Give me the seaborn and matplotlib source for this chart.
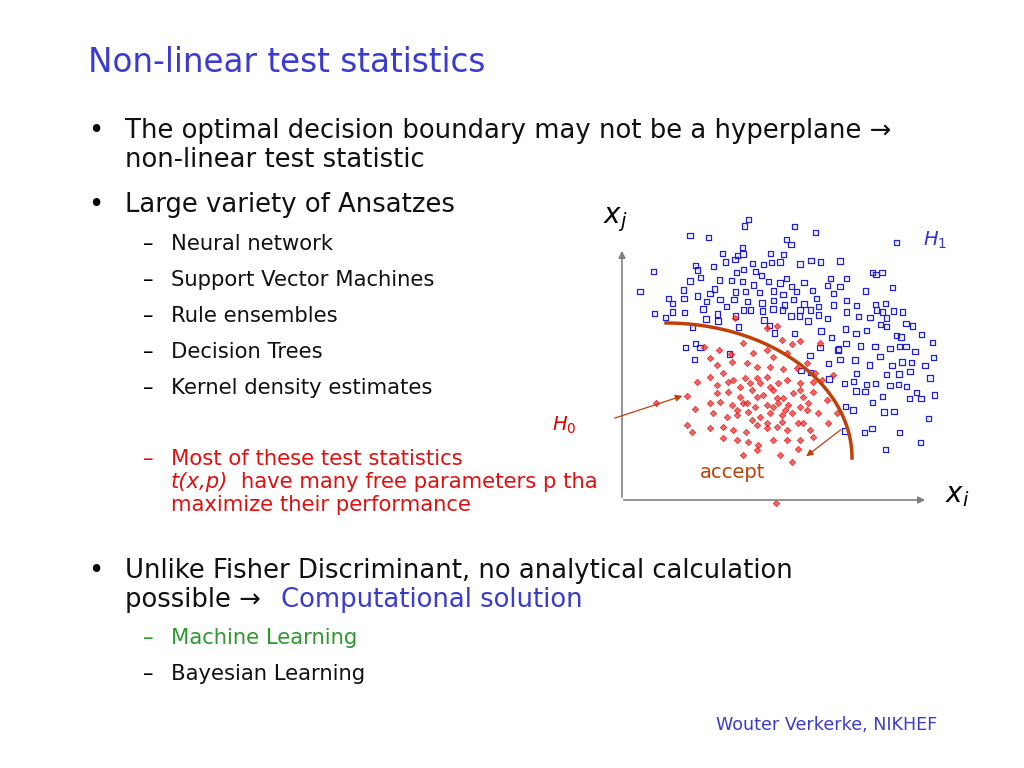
import matplotlib
matplotlib.use("Agg")
import matplotlib.pyplot as plt
import seaborn as sns
import numpy as np
import pandas as pd

# scatter positions (zoomed-crop coordinates: x/3+600, y/3+210 gives image px)
blue_zoom = [(445,28),(433,48),(583,50),(646,68),(270,76),(325,82),(560,88),(573,103),(889,97),(428,112),(367,130),(429,132),(512,130),(413,137),(550,133),(405,148),(377,156),(458,161),(286,166),(160,184),(293,180),(341,170),(490,163),(515,158),(540,156),(600,162),(633,152),(661,156),(720,153),(817,187),(846,187),(828,193),(467,184),(431,178),(410,188),(302,202),(358,210),(395,212),(427,214),(485,196),(505,215),(540,219),(575,230),(612,218),(692,206),(740,205),(270,213),(250,240),(120,245),(205,265),(292,258),(343,237),(406,246),(437,245),(478,248),(520,243),(549,253),(590,245),(637,242),(682,227),(720,230),(796,243),(878,232),(217,280),(252,265),(320,275),(360,268),(402,268),(442,275),(486,279),(520,272),(553,285),(580,268),(612,282),(655,290),(700,285),(740,272),(770,286),(826,283),(857,280),(163,310),(218,306),(253,307),(309,297),(318,327),(353,312),(407,318),(452,300),(487,303),(519,297),(548,300),(573,318),(598,318),(631,300),(656,315),(683,325),(740,306),(775,320),(810,322),(848,306),(880,303),(907,306),(196,323),(277,352),(354,333),(416,351),(492,330),(508,346),(523,369),(583,371),(624,333),(663,363),(694,382),(736,357),(768,370),(800,361),(842,344),(860,324),(918,340),(938,348),(890,376),(903,381),(964,373),(997,397),(256,413),(286,400),(300,413),(283,448),(388,432),(630,436),(660,412),(714,420),(738,400),(782,408),(825,410),(870,415),(898,410),(918,410),(945,425),(1001,442),(603,481),(686,460),(720,448),(765,450),(808,465),(840,440),(876,467),(906,456),(935,457),(975,467),(687,507),(734,521),(760,515),(770,490),(800,523),(860,494),(897,492),(930,484),(990,504),(768,543),(795,545),(827,520),(848,560),(870,527),(896,524),(920,530),(950,547),(1003,555),(737,590),(759,600),(818,578),(852,606),(882,605),(928,565),(963,565),(985,626),(793,667),(816,655),(898,667),(857,718),(961,698),(735,663),(716,417),(632,488),(330,250),(460,225),(560,205),(650,265),(700,250),(380,290),(430,300),(600,300),(830,300),(860,350)]
red_zoom = [(405,325),(500,355),(531,348),(545,390),(577,401),(600,394),(661,398),(358,420),(392,433),(430,400),(460,430),(500,420),(520,440),(560,430),(330,445),(350,465),(395,455),(440,460),(470,470),(510,470),(548,478),(590,475),(620,460),(645,490),(700,495),(290,517),(330,500),(368,490),(400,510),(436,505),(470,505),(500,500),(535,520),(560,510),(600,520),(640,515),(665,510),(262,557),(350,550),(385,545),(420,560),(456,540),(490,555),(520,540),(550,565),(580,550),(610,560),(640,545),(680,570),(330,580),(360,575),(395,585),(430,580),(465,590),(500,585),(535,580),(565,585),(600,590),(625,580),(655,610),(710,610),(168,578),(285,598),(340,610),(380,620),(410,615),(445,605),(480,620),(510,610),(545,615),(575,610),(610,640),(685,640),(262,645),(275,665),(330,655),(370,650),(400,660),(438,665),(470,645),(500,655),(530,650),(560,660),(593,640),(630,660),(370,685),(410,690),(445,695),(475,705),(520,690),(560,690),(600,690),(640,680),(430,735),(470,720),(540,735),(595,718),(575,757),(528,878),(312,412),(440,580),(520,590),(480,520),(555,600),(420,530),(450,520),(510,530),(470,560),(530,565),(410,600),(455,630),(500,640),(545,635),(385,515),(600,540),(350,525),(620,600)]

blue_x = [600 + a / 3 for a, b in blue_zoom]
blue_y = [210 + b / 3 for a, b in blue_zoom]
red_x = [600 + a / 3 for a, b in red_zoom]
red_y = [210 + b / 3 for a, b in red_zoom]

fig = plt.figure(figsize=(10.24, 7.68), dpi=100)
ax = fig.add_axes([0, 0, 1, 1])
ax.set_xlim(0, 1024)
ax.set_ylim(768, 0)
ax.axis("off")

sns.scatterplot(x=blue_x, y=blue_y, ax=ax, marker="s", s=16, facecolors="none",
                edgecolor="#2020d0", linewidth=0.9, legend=False)
sns.scatterplot(x=blue_x, y=blue_y, ax=ax, marker=".", s=1, color="#2020d0", legend=False)
sns.scatterplot(x=red_x, y=red_y, ax=ax, marker="D", s=11, color="#f03030", alpha=0.75,
                edgecolor="#e00000", linewidth=0.5, legend=False)

# axes arrows
gray = "#808080"
ax.annotate("", xy=(622, 248), xytext=(622, 500), arrowprops=dict(arrowstyle="-|>", color=gray, lw=1.2))
ax.annotate("", xy=(928, 500), xytext=(621, 500), arrowprops=dict(arrowstyle="-|>", color=gray, lw=1.2))
# decision boundary
t = np.linspace(0, np.pi / 2, 100)
ax.plot(666 + 186 * np.sin(t), 458 - 135 * np.cos(t), color="#c0400a", lw=2.5)
ax.annotate("", xy=(685, 395), xytext=(612, 419), arrowprops=dict(arrowstyle="-|>", color="#c0400a", lw=0.9))
ax.annotate("", xy=(804, 458), xytext=(843, 428), arrowprops=dict(arrowstyle="-|>", color="#c0400a", lw=0.9))

ax.text(603, 220, r"$x_j$", fontsize=20, va="center")
ax.text(945, 495, r"$x_i$", fontsize=20, va="center")
ax.text(923, 240, r"$H_1$", fontsize=14, color="#3535c8", va="center")
ax.text(552, 425, r"$H_0$", fontsize=14, color="#e00000", va="center")
ax.text(700, 472, "accept", fontsize=14, color="#c0400a", va="center")

blue = "#3b3bcf"
black = "#111111"
ax.text(88, 62, "Non-linear test statistics", fontsize=23.5, color=blue, va="center")
big = 18.6
ax.text(88, 131, "•", fontsize=big, va="center")
ax.text(125, 131, "The optimal decision boundary may not be a hyperplane \u2192", fontsize=big, va="center", color=black)
ax.text(125, 160, "non-linear test statistic", fontsize=big, va="center", color=black)
ax.text(88, 205, "•", fontsize=big, va="center")
ax.text(125, 205, "Large variety of Ansatzes", fontsize=big, va="center", color=black)
small = 15.2
for y, s in [(244, "Neural network"), (280, "Support Vector Machines"), (316, "Rule ensembles"),
             (352, "Decision Trees"), (388, "Kernel density estimates")]:
    ax.text(143, y, "–", fontsize=small, va="center")
    ax.text(171, y, s, fontsize=small, va="center", color=black)
red = "#e01010"
ax.text(143, 459, "–", fontsize=small, va="center", color=red)
ax.text(171, 459, "Most of these test statistics", fontsize=small, va="center", color=red)
ax.text(171, 482, "t(x,p)", fontsize=small, va="center", color=red, style="italic")
ax.text(241, 482, "have many free parameters p tha", fontsize=small, va="center", color=red)
ax.text(171, 505, "maximize their performance", fontsize=small, va="center", color=red)

ax.text(88, 571, "•", fontsize=big, va="center")
ax.text(125, 571, "Unlike Fisher Discriminant, no analytical calculation", fontsize=big, va="center", color=black)
ax.text(125, 600, "possible \u2192", fontsize=big, va="center", color=black)
ax.text(281, 600, "Computational solution", fontsize=big, va="center", color=blue)
ax.text(143, 638, "–", fontsize=small, va="center", color="#2a9a2a")
ax.text(171, 638, "Machine Learning", fontsize=small, va="center", color="#2a9a2a")
ax.text(143, 674, "–", fontsize=small, va="center")
ax.text(171, 674, "Bayesian Learning", fontsize=small, va="center", color=black)
ax.text(716, 725, "Wouter Verkerke, NIKHEF", fontsize=12.6, va="center", color=blue)

fig.savefig("out.png", dpi=100)
